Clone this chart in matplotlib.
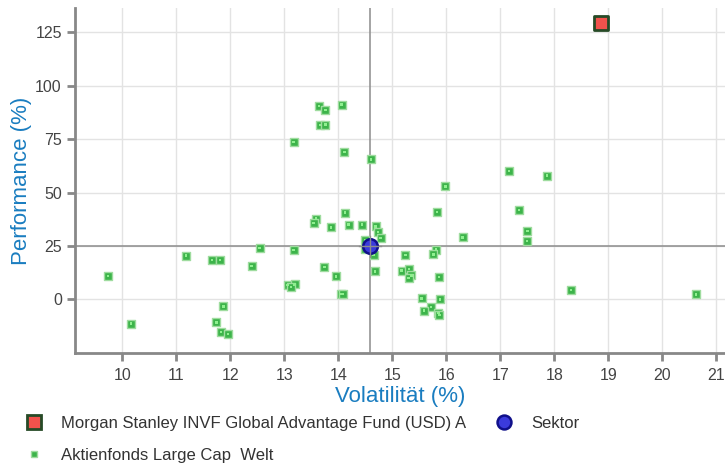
import matplotlib
matplotlib.use("Agg")
import matplotlib.pyplot as plt
from matplotlib.lines import Line2D

plt.rcParams['font.family'] = ['Liberation Sans', 'DejaVu Sans']

# --- Data -------------------------------------------------------------------
fund_name = "Morgan Stanley INVF Global Advantage Fund (USD) A"
fund_vol = [18.86]
fund_perf = [129.5]

sektor_vol = [14.58]
sektor_perf = [24.9]

peer_name = "Aktienfonds Large Cap  Welt"
peer_vol = [13.64, 13.76, 14.06, 13.66, 13.76, 13.17, 14.11, 14.60,
            13.58, 13.54, 14.12, 13.86, 14.19, 14.44, 14.69, 14.73, 14.78,
            14.50, 14.50, 14.65, 14.68, 12.54, 13.17, 11.18, 11.66, 11.81,
            12.39, 13.74, 13.96, 9.73, 13.06, 13.19, 13.12, 14.04, 14.08,
            11.87, 10.16, 11.74, 11.83, 11.95,
            17.16, 17.86, 15.98, 15.83, 17.34, 17.50, 17.49, 16.30, 15.81,
            15.76, 15.24, 15.17, 15.31, 15.35, 15.30, 15.86, 15.54, 15.88,
            15.72, 15.58, 15.85, 15.87, 18.31, 20.62]
peer_perf = [90.4, 88.7, 91.2, 81.7, 81.8, 73.7, 68.9, 65.5,
             37.8, 35.7, 40.6, 33.7, 35.0, 35.0, 34.2, 31.5, 28.7,
             27.9, 23.6, 20.8, 13.1, 24.1, 23.1, 20.5, 18.6, 18.6,
             15.7, 15.2, 10.8, 11.0, 6.8, 7.1, 5.8, 2.6, 2.6,
             -3.2, -11.3, -10.7, -15.2, -16.1,
             60.0, 58.0, 52.9, 41.0, 41.8, 32.1, 27.5, 29.0, 23.3,
             21.1, 20.9, 13.5, 14.4, 11.3, 10.1, 10.5, 0.5, 0.05,
             -3.5, -5.2, -6.3, -7.2, 4.4, 2.4]

x_ticks = list(range(10, 22))
y_ticks = [0, 25, 50, 75, 100, 125]

# --- Plot -------------------------------------------------------------------
fig = plt.figure(figsize=(7.25, 4.65), dpi=100)
ax = fig.add_axes([0.1034, 0.241, 0.8966, 0.742])

ax.set_xlim(9.12, 21.16)
ax.set_ylim(-25, 136.4)
ax.set_xticks(x_ticks)
ax.set_yticks(y_ticks)
ax.grid(True, color="#e3e3e3", linewidth=1)
ax.set_axisbelow(True)

for s in ["top", "right"]:
    ax.spines[s].set_visible(False)
for s in ["left", "bottom"]:
    ax.spines[s].set_color("#888888")
    ax.spines[s].set_linewidth(2)
ax.tick_params(axis="both", colors="#888888", width=2, length=6,
               labelcolor="#444444", labelsize=11.5)
ax.tick_params(axis="x", pad=5)

# sector crosshair
ax.axvline(sektor_vol[0], color="#8c8c8c", linewidth=1.1, zorder=2)
ax.axhline(sektor_perf[0], color="#8c8c8c", linewidth=1.1, zorder=2)

ax.scatter(peer_vol, peer_perf, marker="s", s=36, facecolor="#3cb44a",
           edgecolor="#9fdc9f", linewidth=1, zorder=3)
ax.scatter(peer_vol, peer_perf, marker="s", s=3, facecolor="#8ff08f",
           edgecolor="none", zorder=4)
ax.scatter(sektor_vol, sektor_perf, marker="o", s=110, facecolor="#3b3bdc",
           edgecolor="#10108a", linewidth=1.8, zorder=5)
ax.plot(sektor_vol * 2, [sektor_perf[0] - 5, sektor_perf[0] + 5],
        color="#8c8c8c", linewidth=1, zorder=6)
ax.plot([sektor_vol[0] - 0.2, sektor_vol[0] + 0.2], sektor_perf * 2,
        color="#8c8c8c", linewidth=1, zorder=6)
ax.scatter(fund_vol, fund_perf, marker="s", s=110, facecolor="#f2524c",
           edgecolor="#264a26", linewidth=2, zorder=5)

ax.set_xlabel("Volatilität (%)", color="#1a7dc0", fontsize=16, labelpad=2)
ax.set_ylabel("Performance (%)", color="#1a7dc0", fontsize=16, labelpad=2)

handles = [
    Line2D([], [], marker="s", linestyle="none", markersize=10,
           markerfacecolor="#f2524c", markeredgecolor="#264a26", markeredgewidth=2),
    Line2D([], [], marker="s", linestyle="none", markersize=5,
           markerfacecolor="#3cb44a", markeredgecolor="#9fdc9f", markeredgewidth=1),
    Line2D([], [], marker="o", linestyle="none", markersize=10,
           markerfacecolor="#3b3bdc", markeredgecolor="#10108a", markeredgewidth=1.8),
]
labels = [fund_name, peer_name, "Sektor"]
fig.legend(handles, labels, ncol=2, loc="upper left",
           bbox_to_anchor=(0.015, 0.119), frameon=False, fontsize=12,
           labelcolor="#333333", handletextpad=0.6, columnspacing=1.3,
           labelspacing=1.0, borderaxespad=0)

fig.savefig("out.png", dpi=100)
